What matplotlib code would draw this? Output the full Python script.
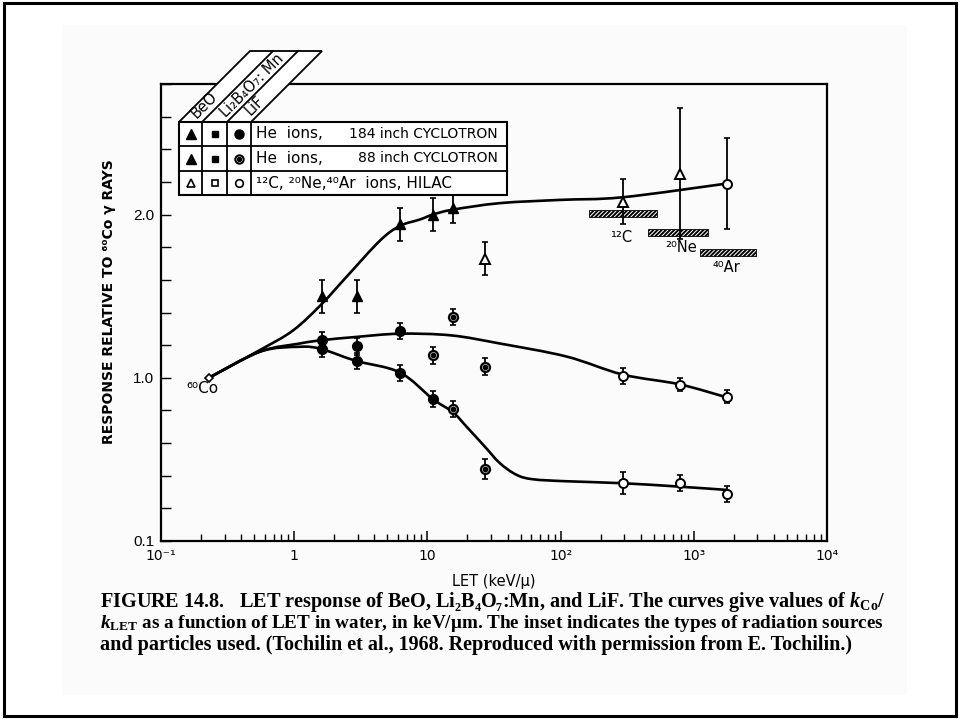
import numpy as np
import matplotlib
matplotlib.use('Agg')
import matplotlib.pyplot as plt
from matplotlib.patches import Rectangle, Polygon, PathPatch
from matplotlib.path import Path

plt.rcParams['font.family'] = ['Liberation Sans', 'DejaVu Sans']
plt.rcParams['mathtext.fontset'] = 'custom'
plt.rcParams['mathtext.rm'] = 'Liberation Serif:bold'
plt.rcParams['mathtext.it'] = 'Liberation Serif:italic:bold'
plt.rcParams['mathtext.bf'] = 'Liberation Serif:bold'
plt.rcParams['hatch.linewidth'] = 1.4

# ---------------- data ----------------
co60_let = 0.229
co60_resp = 1.0

# BeO (triangles)
beo_let = [1.61, 2.94, 6.23, 11.0, 15.5, 27.3, 292, 781, 1766]
beo_resp = [1.50, 1.50, 1.94, 2.00, 2.04, 1.73, 2.08, 2.25, 2.19]
beo_err = [0.10, 0.10, 0.10, 0.10, 0.09, 0.10, 0.135, 0.40, 0.28]
beo_kind = ['tri', 'tri', 'tri', 'tri', 'tri', 'otri', 'otri', 'otri', 'ocirc']

# Li2B4O7:Mn (middle curve points)
lib_let = [1.61, 2.94, 6.23, 11.0, 15.5, 27.3, 292, 781, 1766]
lib_resp = [1.233, 1.192, 1.288, 1.137, 1.372, 1.069, 1.012, 0.957, 0.883]
lib_err = [0.05, 0.05, 0.05, 0.05, 0.05, 0.05, 0.05, 0.04, 0.04]
lib_kind = ['fc', 'fc', 'fc', 'dc', 'dc', 'dc', 'oc', 'oc', 'oc']

# LiF (bottom curve points)
lif_let = [1.61, 2.94, 6.23, 11.0, 15.5, 27.3, 292, 781, 1766]
lif_resp = [1.178, 1.104, 1.029, 0.869, 0.808, 0.440, 0.356, 0.356, 0.288]
lif_err = [0.05, 0.05, 0.05, 0.05, 0.05, 0.06, 0.067, 0.05, 0.05]
lif_kind = ['fc', 'fc', 'fc', 'fc', 'dc', 'dc', 'oc', 'oc', 'oc']

# drawn curves
beo_curve_let = [0.229, 0.553, 0.98, 1.6, 2.48, 4.4, 6.2, 8.8, 11, 15.5, 35, 100, 292, 1766]
beo_curve_resp = [1.0, 1.17, 1.29, 1.45, 1.62, 1.84, 1.93, 1.97, 2.0, 2.03, 2.07, 2.09, 2.106, 2.19]
lib_curve_let = [0.229, 0.553, 1.1, 1.6, 2.9, 6.2, 15, 35, 111, 292, 781, 1766]
lib_curve_resp = [1.0, 1.16, 1.21, 1.23, 1.25, 1.27, 1.26, 1.21, 1.13, 1.02, 0.96, 0.88]
lif_curve_let = [0.229, 0.553, 1.1, 1.6, 2.9, 6.2, 11, 15.5, 19.7, 27, 35, 46.8, 62.4, 111, 292, 781, 1766]
lif_curve_resp = [1.0, 1.16, 1.19, 1.176, 1.104, 1.033, 0.869, 0.79, 0.70, 0.578, 0.477, 0.405, 0.378, 0.366, 0.354, 0.333, 0.313]

# heavy-ion LET ranges (hatched bars)
ion_names = ['¹²C', '²⁰Ne', '⁴⁰Ar']
ion_let_lo = [163, 453, 1114]
ion_let_hi = [530, 1280, 2930]
ion_resp = [2.006, 1.89, 1.767]
ion_label_let = [289, 802, 1754]
ion_label_resp = [1.86, 1.80, 1.675]

x_tick_vals = [0.1, 1, 10, 100, 1000, 10000]
x_tick_labels = ['10⁻¹', '1', '10', '10²', '10³', '10⁴']
y_tick_vals = [0.0, 1.0, 2.0]
y_tick_labels = ['0.1', '1.0', '2.0']

legend_materials = ['BeO', 'Li₂B₄O₇: Mn', 'LiF']
legend_rows = [('He  ions,', '184 inch CYCLOTRON'),
               ('He  ions,', '88 inch CYCLOTRON'),
               ('¹²C, ²⁰Ne,⁴⁰Ar  ions, HILAC', '')]

caption_lines = [
    r'FIGURE 14.8.   LET response of BeO, Li₂B₄O₇:Mn, and LiF. The curves give values of $k_{\rm Co}$/',
    r'$k_{\rm LET}$ as a function of LET in water, in keV/μm. The inset indicates the types of radiation sources',
    'and particles used. (Tochilin et al., 1968. Reproduced with permission from E. Tochilin.)',
]

# ---------------- figure ----------------
W, H = 960, 719
fig = plt.figure(figsize=(W / 100, H / 100), dpi=100)

bg = fig.add_axes([0, 0, 1, 1], zorder=0)
bg.set_xlim(0, W); bg.set_ylim(H, 0); bg.axis('off')
bg.add_patch(Rectangle((62, 25), 845, 670, facecolor='#fbfbfb', edgecolor='none'))
bg.add_patch(Rectangle((4, 3), W - 8, H - 6, facecolor='none', edgecolor='black', lw=2.2))

L, R, T, B = 161, 827, 84, 541
ax = fig.add_axes([L / W, 1 - B / H, (R - L) / W, (B - T) / H], zorder=2)
ax.set_facecolor('none')
ax.set_xscale('log')
ax.set_xlim(0.1, 1e4)
ax.set_ylim(0, 2.8)


def smooth_curve(xs, ys, **kw):
    """Draw a smooth (Catmull-Rom as cubic Bezier) curve through the read points,
    with the control points computed in log-x space."""
    lx = np.log10(np.asarray(xs, float))
    ly = np.asarray(ys, float)
    P = np.column_stack([lx, ly])
    n = len(P)
    verts = [P[0]]
    codes = [Path.MOVETO]
    for i in range(n - 1):
        p0 = P[i - 1] if i > 0 else P[i]
        p1, p2 = P[i], P[i + 1]
        p3 = P[i + 2] if i + 2 < n else P[i + 1]
        c1 = p1 + (p2 - p0) / 6.0
        c2 = p2 - (p3 - p1) / 6.0
        verts += [c1, c2, p2]
        codes += [Path.CURVE4] * 3
    V = np.array(verts)
    V[:, 0] = 10 ** V[:, 0]
    ax.add_patch(PathPatch(Path(V, codes), facecolor='none', **kw))


lw_curve = 1.9
smooth_curve(beo_curve_let, beo_curve_resp, edgecolor='black', lw=lw_curve, zorder=3)
smooth_curve(lib_curve_let, lib_curve_resp, edgecolor='black', lw=lw_curve, zorder=3)
smooth_curve(lif_curve_let, lif_curve_resp, edgecolor='black', lw=lw_curve, zorder=3)

ax.plot([co60_let], [co60_resp], marker='D', ms=4.5, mfc='white', mec='black', mew=1.2, zorder=5)
ax.text(0.203, 0.935, '⁶⁰Co', fontsize=11, ha='center', va='center',
        family=['DejaVu Sans'])

style = {
    'tri': dict(marker='^', ms=7.5, mfc='black', mec='black'),
    'otri': dict(marker='^', ms=7, mfc='white', mec='black', mew=1.4),
    'ocirc': dict(marker='o', ms=6.5, mfc='white', mec='black', mew=1.4),
    'fc': dict(marker='o', ms=7, mfc='black', mec='black'),
    'dc': dict(marker='o', ms=6.5, mfc='white', mec='black', mew=1.6),
    'oc': dict(marker='o', ms=6.5, mfc='white', mec='black', mew=1.4),
}


def draw_points(xs, ys, es, kinds):
    for x, y, e, k in zip(xs, ys, es, kinds):
        ax.errorbar([x], [y], yerr=[e], fmt='none', ecolor='black', elinewidth=1.3,
                    capsize=2.5, capthick=1.2, zorder=4)
        ax.plot([x], [y], linestyle='none', zorder=5, **style[k])
        if k == 'dc':
            ax.plot([x], [y], linestyle='none', marker='o', ms=3.2, mfc='black',
                    mec='black', zorder=6)


draw_points(beo_let, beo_resp, beo_err, beo_kind)
draw_points(lib_let, lib_resp, lib_err, lib_kind)
draw_points(lif_let, lif_resp, lif_err, lif_kind)

for lo, hi, r in zip(ion_let_lo, ion_let_hi, ion_resp):
    ax.fill_between([lo, hi], [r - 0.022, r - 0.022], [r + 0.022, r + 0.022],
                    facecolor='white', edgecolor='black', hatch='////////', lw=0.6, zorder=2)
for name, lx, ly in zip(ion_names, ion_label_let, ion_label_resp):
    ax.text(lx, ly, name, fontsize=10.5, ha='center', va='center', family=['DejaVu Sans'])

# axes styling
for s in ax.spines.values():
    s.set_linewidth(1.6)
ax.set_xticks(x_tick_vals)
ax.set_xticklabels(x_tick_labels, family=['DejaVu Sans'], fontsize=10)
ax.xaxis.set_minor_locator(matplotlib.ticker.LogLocator(base=10, subs=np.arange(2, 10)))
ax.xaxis.set_minor_formatter(matplotlib.ticker.NullFormatter())
ax.tick_params(axis='x', which='major', direction='in', length=7, width=1.1, pad=6)
ax.tick_params(axis='x', which='minor', direction='in', length=5, width=1.0)
ax.set_yticks(y_tick_vals)
ax.set_yticklabels(y_tick_labels, fontsize=11)
ax.set_yticks(np.arange(0, 2.81, 0.2), minor=True)
ax.tick_params(axis='y', which='both', direction='in', length=7, width=1.0, pad=5)
ax.set_xlabel('LET (keV/μ)', fontsize=10.5, labelpad=8, family=['DejaVu Sans'])
ax.set_ylabel('RESPONSE RELATIVE TO ⁶⁰Co γ RAYS', fontsize=10, fontweight='bold',
              family=['DejaVu Sans'])
ax.yaxis.set_label_coords((116 - L) / (R - L), (B - 302) / (B - T))

# ---------------- inset legend (pixel coordinates) ----------------
fg = fig.add_axes([0, 0, 1, 1], zorder=3)
fg.set_xlim(0, W); fg.set_ylim(H, 0); fg.axis('off')

tx0, tx1, ty0, ty1 = 179, 507, 122, 195
col_x = [179, 202, 227, 251]
row_y = [122, 146, 171, 195]
slant = 71
fg.add_patch(Polygon([(179, 122), (179 + slant, 122 - slant), (251 + slant, 122 - slant), (251, 122)],
                     closed=True, facecolor='white', edgecolor='black', lw=1.3))
for cx in col_x[1:-1]:
    fg.plot([cx, cx + slant], [122, 122 - slant], color='black', lw=1.3)
fg.add_patch(Rectangle((tx0, ty0), tx1 - tx0, ty1 - ty0, facecolor='white',
                       edgecolor='black', lw=1.5))
for yy in row_y[1:-1]:
    fg.plot([tx0, tx1], [yy, yy], color='black', lw=1.3)
for cx in col_x[1:]:
    fg.plot([cx, cx], [ty0, ty1], color='black', lw=1.3)

hdr_centers = [(204, 105), (252, 86), (255, 106)]
for name, (hx, hy) in zip(legend_materials, hdr_centers):
    fg.text(hx, hy, name, rotation=45, ha='center', va='center', fontsize=10.5,
            rotation_mode='anchor', family=['DejaVu Sans'])

mk_x = [190.5, 214.5, 239]
rows_style = [
    [dict(marker='^', ms=7, mfc='black', mec='black'), dict(marker='s', ms=5, mfc='black', mec='black'),
     dict(marker='o', ms=6.5, mfc='black', mec='black')],
    [dict(marker='^', ms=7, mfc='black', mec='black'), dict(marker='s', ms=4.5, mfc='black', mec='black'),
     dict(marker='o', ms=6, mfc='white', mec='black', mew=1.5)],
    [dict(marker='^', ms=6, mfc='white', mec='black', mew=1.2), dict(marker='s', ms=5, mfc='white', mec='black', mew=1.2),
     dict(marker='o', ms=5.5, mfc='white', mec='black', mew=1.2)],
]
row_cy = [134, 158.5, 183]
for ri, (cy, sts) in enumerate(zip(row_cy, rows_style)):
    for cx, st in zip(mk_x, sts):
        fg.plot([cx], [cy], linestyle='none', **st)
    if ri == 1:
        fg.plot([mk_x[2]], [cy], linestyle='none', marker='o', ms=2.8, mfc='black', mec='black')

for (left, right), cy in zip(legend_rows, row_cy):
    fg.text(256, cy, left, ha='left', va='center', fontsize=11, family=['DejaVu Sans'])
    if right:
        fg.text(498, cy, right, ha='right', va='center', fontsize=10, family=['DejaVu Sans'])

# ---------------- caption (justified lines) ----------------
cap_y = [602, 623, 645]
cap_size = [14.55, 13.8, 14.5]
for line, cy, fs in zip(caption_lines, cap_y, cap_size):
    fg.text(100, cy, line, ha='left', va='center', fontsize=fs, fontweight='bold',
            family=['Liberation Serif', 'DejaVu Serif'])

fig.savefig('out.png', dpi=100)
